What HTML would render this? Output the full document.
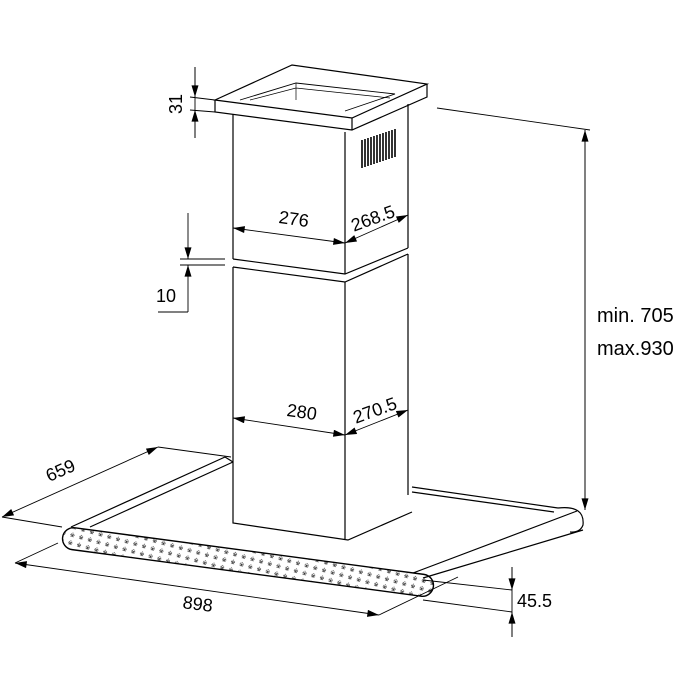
<!DOCTYPE html>
<html><head><style>body{margin:0;background:#fff}svg{display:block}text{font-family:"Liberation Sans",sans-serif;fill:#000}</style></head>
<body>
<svg width="700" height="700" viewBox="0 0 700 700" xmlns="http://www.w3.org/2000/svg">
<defs>
<marker id="a" viewBox="0 0 10 6" refX="10" refY="3" markerWidth="16" markerHeight="7" markerUnits="userSpaceOnUse" orient="auto-start-reverse"><path d="M0,0L10,3L0,6z" fill="#000"/></marker>
<pattern id="dots" width="9" height="8" patternUnits="userSpaceOnUse" patternTransform="rotate(7.6)"><text x="1" y="6" font-size="6" fill="#555">※</text></pattern>
</defs>
<g fill="none" stroke="#000" stroke-width="1.2">
<path d="M215,100 L292,65 L427,84 L352,118 Z" fill="#fff"/>
<path d="M215,100 L215,112 L352,130 L427,97 L427,84 M352,118 L352,130"/>
<path d="M240,100 L296,83 L395,94 L345,111" stroke-width="0.9"/>
<path d="M296,83 L296,100 M250,100 L296,88 L390,98" stroke-width="0.7"/>
<path d="M233,114 L233,259 M345,132 L345,274 M408,104 L408,248"/>
<path d="M233,259 L345,274 L408,248 M233,267 L345,282 L408,254"/>
<g stroke-width="1.6"><path d="M362,140v28M365,139v28M368,138v28M371,137v28M374,136v28M377,135v28M380,134v28M383,133v28M386,132v28M389,131v28M392,130v28M395,129v28"/></g>
<path d="M233,267 L233,523 L348,540 L412,512 M345,282 L345,540 M408,254 L408,495"/>
<path d="M71,527 L225,457 M90,527 L233,462 M225,457 L233,462"/>
<path d="M412,487 L558,508 M412,492 L554,512"/>
<path d="M558,508 Q585,505 583,525 Q580,533 570,532" />
<path d="M577,511 L413,573 M583,530 L423,578"/>
<g transform="translate(248,562) rotate(7.6)"><rect x="-187" y="-11" width="374" height="22" rx="11" fill="url(#dots)" stroke="#000" stroke-width="1.4"/></g>
<g stroke-width="0.9">
<path d="M195,67 L195,138 M190,97 L215,100 M190,110 L215,112"/>
<path d="M195,67 L195,97" marker-end="url(#a)"/><path d="M195,138 L195,110" marker-end="url(#a)"/>
<path d="M188,213 L188,259" marker-end="url(#a)"/><path d="M188,312 L188,265" marker-end="url(#a)"/>
<path d="M180,259 L225,259 M180,265 L225,265 M158,312 L188,312"/>
<path d="M233,228 L345,243" marker-start="url(#a)" marker-end="url(#a)"/>
<path d="M345,243 L408,215" marker-start="url(#a)" marker-end="url(#a)"/>
<path d="M233,418 L345,435" marker-start="url(#a)" marker-end="url(#a)"/>
<path d="M345,435 L408,410" marker-start="url(#a)" marker-end="url(#a)"/>
<path d="M437,108 L590,130 M585,130 L585,510"/>
<path d="M585,300 L585,130" marker-end="url(#a)"/><path d="M585,300 L585,510" marker-end="url(#a)"/>
<path d="M2,517 L158,447" marker-start="url(#a)" marker-end="url(#a)"/>
<path d="M158,447 L231,457 M2,517 L62,527"/>
<path d="M15,563 L379,615" marker-start="url(#a)" marker-end="url(#a)"/>
<path d="M15,563 L58,543 M379,615 L458,577"/>
<path d="M423,580 L512,590 M423,600 L512,612 M512,567 L512,637"/>
<path d="M512,567 L512,590" marker-end="url(#a)"/><path d="M512,637 L512,612" marker-end="url(#a)"/>
</g>
</g>
<g font-size="18">
<text transform="translate(182,104) rotate(-90)" text-anchor="middle">31</text>
<text x="156" y="302">10</text>
<text x="293" y="225" transform="rotate(8 293 225)" text-anchor="middle">276</text>
<text x="375" y="224" transform="rotate(-20 375 224)" text-anchor="middle">268.5</text>
<text x="301" y="418" transform="rotate(8 301 418)" text-anchor="middle">280</text>
<text x="377" y="416" transform="rotate(-20 377 416)" text-anchor="middle">270.5</text>
<text x="63" y="476" transform="rotate(-24 63 476)" text-anchor="middle">659</text>
<text x="197" y="610" transform="rotate(7 197 610)" text-anchor="middle">898</text>
<text x="517" y="607">45.5</text>
</g>
<g font-size="20"><text x="597" y="322">min. 705</text><text x="597" y="355">max.930</text></g>
</svg>
</body></html>
